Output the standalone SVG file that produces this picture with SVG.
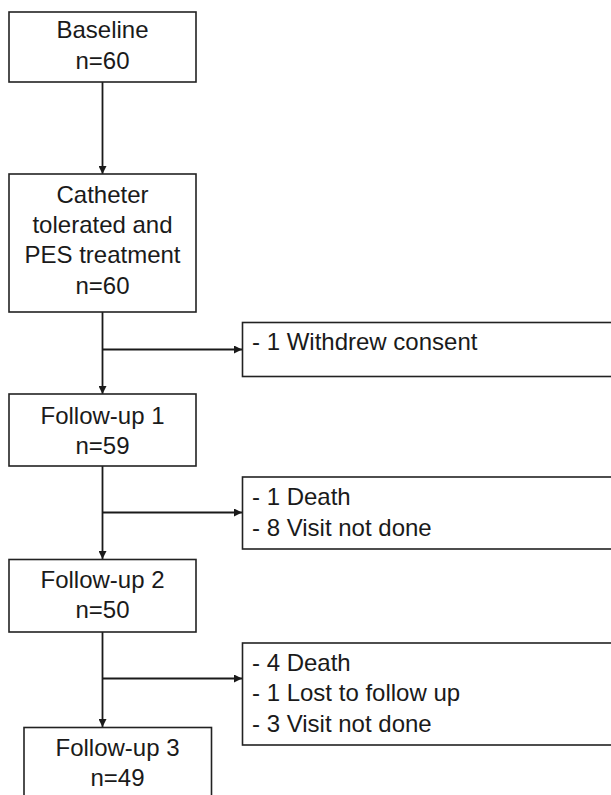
<svg xmlns="http://www.w3.org/2000/svg" width="611" height="795" viewBox="0 0 611 795">
<defs>
<marker id="ah" viewBox="0 0 10 10" refX="10" refY="5" markerWidth="8" markerHeight="8" markerUnits="userSpaceOnUse" orient="auto">
<path d="M0,0 L10,5 L0,10 z" fill="#1a1a1a"/>
</marker>
<style>
rect{fill:#fff;stroke:#222;stroke-width:1.6}
text{font-family:"Liberation Sans",Arial,sans-serif;font-size:24px;fill:#1a1a1a}
.c{text-anchor:middle}
.conn line{stroke:#1a1a1a;stroke-width:1.8}
</style>
</defs>
<rect x="0" y="0" width="611" height="795" style="fill:#fff;stroke:none"/>
<g class="conn">
<line x1="102.5" y1="82" x2="102.5" y2="174" marker-end="url(#ah)"/>
<line x1="102.5" y1="312" x2="102.5" y2="394" marker-end="url(#ah)"/>
<line x1="102.5" y1="349.5" x2="242" y2="349.5" marker-end="url(#ah)"/>
<line x1="102.5" y1="466" x2="102.5" y2="559" marker-end="url(#ah)"/>
<line x1="102.5" y1="512.5" x2="242" y2="512.5" marker-end="url(#ah)"/>
<line x1="102.5" y1="632" x2="102.5" y2="727" marker-end="url(#ah)"/>
<line x1="102.5" y1="678.5" x2="242" y2="678.5" marker-end="url(#ah)"/>
</g>
<g id="baseline">
<rect x="9" y="12" width="187" height="70"/>
<text class="c" x="102.5" y="38">Baseline</text>
<text class="c" x="102.5" y="69">n=60</text>
</g>
<g id="catheter">
<rect x="9" y="174" width="187" height="138"/>
<text class="c" x="102.5" y="203">Catheter</text>
<text class="c" x="102.5" y="233">tolerated and</text>
<text class="c" x="102.5" y="263">PES treatment</text>
<text class="c" x="102.5" y="294">n=60</text>
</g>
<g id="withdrew">
<rect x="242.5" y="322.5" width="380" height="54"/>
<text x="252" y="350">- 1 Withdrew consent</text>
</g>
<g id="followup1">
<rect x="9" y="394" width="187" height="72"/>
<text class="c" x="102.5" y="424">Follow-up 1</text>
<text class="c" x="102.5" y="454">n=59</text>
</g>
<g id="excl2">
<rect x="242.5" y="477" width="380" height="72"/>
<text x="252" y="505">- 1 Death</text>
<text x="252" y="536">- 8 Visit not done</text>
</g>
<g id="followup2">
<rect x="9" y="559.5" width="187" height="72.5"/>
<text class="c" x="102.5" y="588">Follow-up 2</text>
<text class="c" x="102.5" y="618">n=50</text>
</g>
<g id="excl3">
<rect x="242.5" y="643" width="380" height="102"/>
<text x="252" y="671">- 4 Death</text>
<text x="252" y="701">- 1 Lost to follow up</text>
<text x="252" y="732">- 3 Visit not done</text>
</g>
<g id="followup3">
<rect x="24" y="727.5" width="187.5" height="80"/>
<text class="c" x="117.5" y="756">Follow-up 3</text>
<text class="c" x="117.5" y="786">n=49</text>
</g>
</svg>
